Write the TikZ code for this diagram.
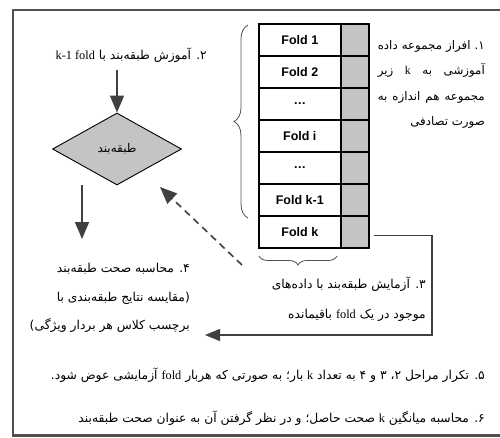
\documentclass[tikz,border=0pt]{standalone}
\usepackage{fontspec}
\setmainfont{Liberation Sans}
\newfontfamily\arabicfont[Script=Arabic]{DejaVu Sans}
\newfontfamily\latinserif{Liberation Serif}
\usetikzlibrary{shapes.geometric}
\usetikzlibrary{arrows.meta}
\usetikzlibrary{decorations.pathreplacing}
\TeXXeTstate=1
\newcommand{\lat}[1]{\beginL{\latinserif #1}\endL}
\newcommand{\jline}[1]{\hbox to 107pt{\beginR #1\endR}}
\definecolor{framegray}{RGB}{80,80,80}
\definecolor{cellgray}{RGB}{196,196,198}
\definecolor{arrowgray}{RGB}{64,64,64}

\begin{document}
\begin{tikzpicture}[x=1pt,y=-1pt,
  fa/.style={font=\arabicfont\fontsize{12.3}{25.5}\selectfont,inner sep=0pt},
  foldcell/.style={draw=black,line width=1.6pt,minimum width=82pt,minimum height=32pt,anchor=north west,inner sep=0pt,font=\bfseries\fontsize{12.5}{14}\selectfont},
  graycell/.style={draw=black,fill=cellgray,line width=1.6pt,minimum width=28pt,minimum height=32pt,anchor=north west,inner sep=0pt},
  bigarrow/.style={draw=arrowgray,line width=1.6pt,-{Triangle[length=17pt,width=14pt]}},
  backarrow/.style={draw=arrowgray,line width=1.2pt,-{Triangle[length=15pt,width=12pt]}}]
\useasboundingbox (0,0) rectangle (500,437);
\draw[framegray,line width=2.2pt] (505,10) -- (13,10) -- (13,435.5) -- (505,435.5);
\foreach \lab [count=\i] in {Fold 1,Fold 2,\ldots,Fold i,\ldots,Fold k-1,Fold k} {
  \node[foldcell] (f\i) at (258,{23+32*(\i-1)}) {\lab};
  \node[graycell] (g\i) at (340,{23+32*(\i-1)}) {};
}
\draw[framegray,line width=0.8pt,decorate,decoration={brace,amplitude=14pt}] (248,218) -- (248,25);
\draw[framegray,line width=0.8pt,decorate,decoration={brace,amplitude=9pt}] (337,256) -- (259,256);
\node[diamond,draw=black,fill=cellgray,line width=0.9pt,aspect=1.8,minimum width=129pt,minimum height=72pt,inner sep=0pt,font=\arabicfont\fontsize{12}{14}\selectfont] (clf) at (117,149) {\beginR طبقه‌بند\endR};
\node[fa,align=right,anchor=north east,font=\arabicfont\fontsize{11.8}{25.5}\selectfont] (t1) at (485,40) {\jline{۱.\hfill افراز\hfill مجموعه\hfill داده}\\\jline{آموزشی\hfill به\hfill \lat{k}\hfill زیر}\\\jline{مجموعه\hfill هم\hfill اندازه\hfill به}\\\beginR صورت تصادفی\endR};
\node[fa,anchor=east] (t2) at (207,55) {\beginR ۲. آموزش طبقه‌بند با \lat{k-1 fold}\endR};
\node[fa,align=right,anchor=north east,font=\arabicfont\fontsize{12.3}{30}\selectfont] (t3) at (426,277) {\beginR ۳. آزمایش طبقه‌بند با داده‌های\endR\\\beginR موجود در یک \lat{fold} باقیمانده\endR};
\node[fa,align=right,anchor=north east,font=\arabicfont\fontsize{12.3}{28.5}\selectfont] (t4) at (190,263) {\beginR ۴. محاسبه صحت طبقه‌بند\endR\\\beginR (مقایسه نتایج طبقه‌بندی با\endR\\\beginR برچسب کلاس هر بردار ویژگی)\endR};
\node[fa,anchor=east] (t5) at (485,375) {\beginR ۵. تکرار مراحل ۲، ۳ و ۴ به تعداد \lat{k} بار؛ به صورتی که هربار \lat{fold} آزمایشی عوض شود.\endR};
\node[fa,anchor=east] (t6) at (485,418) {\beginR ۶. محاسبه میانگین \lat{k} صحت حاصل؛ و در نظر گرفتن آن به عنوان صحت طبقه‌بند\endR};
\coordinate (c2) at (117,70);
\coordinate (c4) at (82,185);
\coordinate (d3) at (242,265);
\coordinate (d2) at (160,187);
\coordinate (ret) at (432,335);
\coordinate (r4) at (205,335);
\draw[bigarrow] (c2) -- (clf.north);
\draw[bigarrow] (c4) -- (82,239);
\draw[bigarrow,dash pattern=on 7pt off 5pt] (d3) -- (d2);
\draw[backarrow] ([xshift=4pt,yshift=-4pt]g7.east) -| (ret) -- (r4);
\end{tikzpicture}
\end{document}
